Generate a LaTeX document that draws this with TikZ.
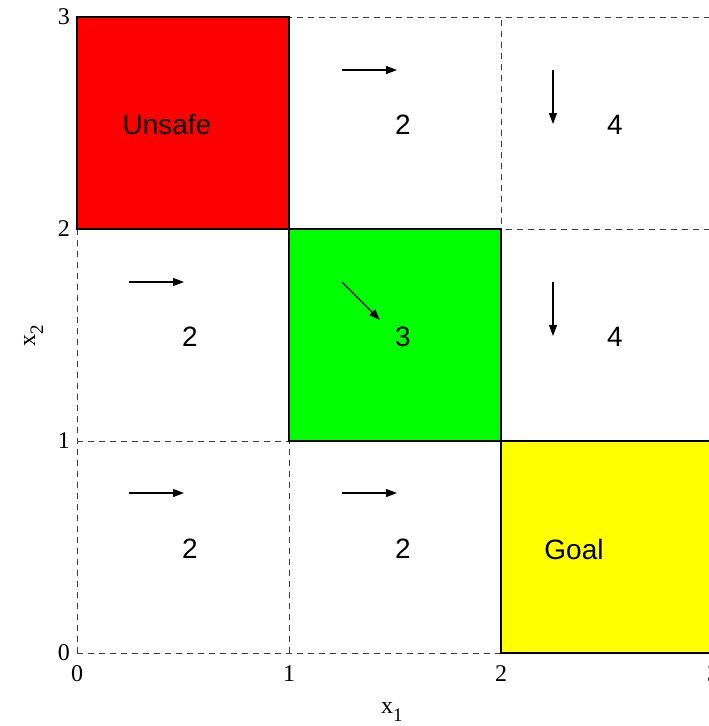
\documentclass[tikz,border=0pt]{standalone}
\usepackage{fontspec}
\setmainfont{Liberation Serif}
\setsansfont{Liberation Sans}
\usetikzlibrary{arrows.meta}
\newcommand{\lowsub}[1]{\raisebox{-8pt}{\fontsize{19}{20}\selectfont #1}}
\begin{document}
\begin{tikzpicture}[x=1pt,y=-1pt,
  cellnum/.style={font=\fontsize{28}{30}\sffamily\selectfont, inner sep=0pt},
  ticklbl/.style={font=\fontsize{24}{26}\selectfont, inner sep=0pt},
  gridline/.style={line width=0.9pt, dash pattern=on 6pt off 5pt, black!75},
  region/.style={draw=black, line width=1.3pt},
  vec/.style={line width=1.2pt, -{Triangle[length=11pt,width=8pt]}}]
\useasboundingbox (0,0) rectangle (709,726);
\fill[white] (0,0) rectangle (709,726);
% coloured regions
\filldraw[region, fill={rgb,255:red,255;green,0;blue,0}] (77,229) rectangle (289,17);
\filldraw[region, fill={rgb,255:red,0;green,255;blue,0}] (289,441) rectangle (501,229);
\filldraw[region, fill={rgb,255:red,255;green,255;blue,0}] (501,653) rectangle (713,441);
% dashed grid
\foreach \xx in {77,289,501,713} \draw[gridline] (\xx,653) -- (\xx,17);
\foreach \yy in {17,229,441,653} \draw[gridline] (77,\yy) -- (713,\yy);
% redraw solid region borders on top
\draw[region] (77,229) rectangle (289,17);
\draw[region] (289,441) rectangle (501,229);
\draw[region] (501,653) rectangle (713,441);
% tick labels
\node[ticklbl] (tx0) at (77,674) {0};
\node[ticklbl] (tx1) at (289,674) {1};
\node[ticklbl] (tx2) at (501,674) {2};
\node[ticklbl] (tx3) at (713,674) {3};
\node[ticklbl,anchor=east] (ty0) at (70,653) {0};
\node[ticklbl,anchor=east] (ty1) at (70,441) {1};
\node[ticklbl,anchor=east] (ty2) at (70,229) {2};
\node[ticklbl,anchor=east] (ty3) at (70,17) {3};
\node[ticklbl,anchor=base west] (xlab) at (381,713) {x\lowsub{1}};
\node[ticklbl,rotate=90,anchor=base west] (ylab) at (35,347) {x\lowsub{2}};
% cell labels
\node[cellnum] (unsafe) at (167,125) {Unsafe};
\node[cellnum] (c12) at (403,125) {2};
\node[cellnum] (c22) at (615,125) {4};
\node[cellnum] (c01) at (190,337) {2};
\node[cellnum] (c11) at (403,337) {3};
\node[cellnum] (c21) at (615,337) {4};
\node[cellnum] (c00) at (190,549) {2};
\node[cellnum] (c10) at (403,549) {2};
\node[cellnum] (goal) at (574,549) {Goal};
% vector arrows
\coordinate (a12s) at (342,70);  \coordinate (a12e) at (397,70);
\coordinate (a22s) at (553,70);  \coordinate (a22e) at (553,124);
\coordinate (a01s) at (129,282); \coordinate (a01e) at (184,282);
\coordinate (a11s) at (342,282); \coordinate (a11e) at (380,320);
\coordinate (a21s) at (553,282); \coordinate (a21e) at (553,336);
\coordinate (a00s) at (129,493); \coordinate (a00e) at (184,493);
\coordinate (a10s) at (342,493); \coordinate (a10e) at (397,493);
\foreach \p in {12,22,01,11,21,00,10} \draw[vec] (a\p s) -- (a\p e);
\end{tikzpicture}
\end{document}
